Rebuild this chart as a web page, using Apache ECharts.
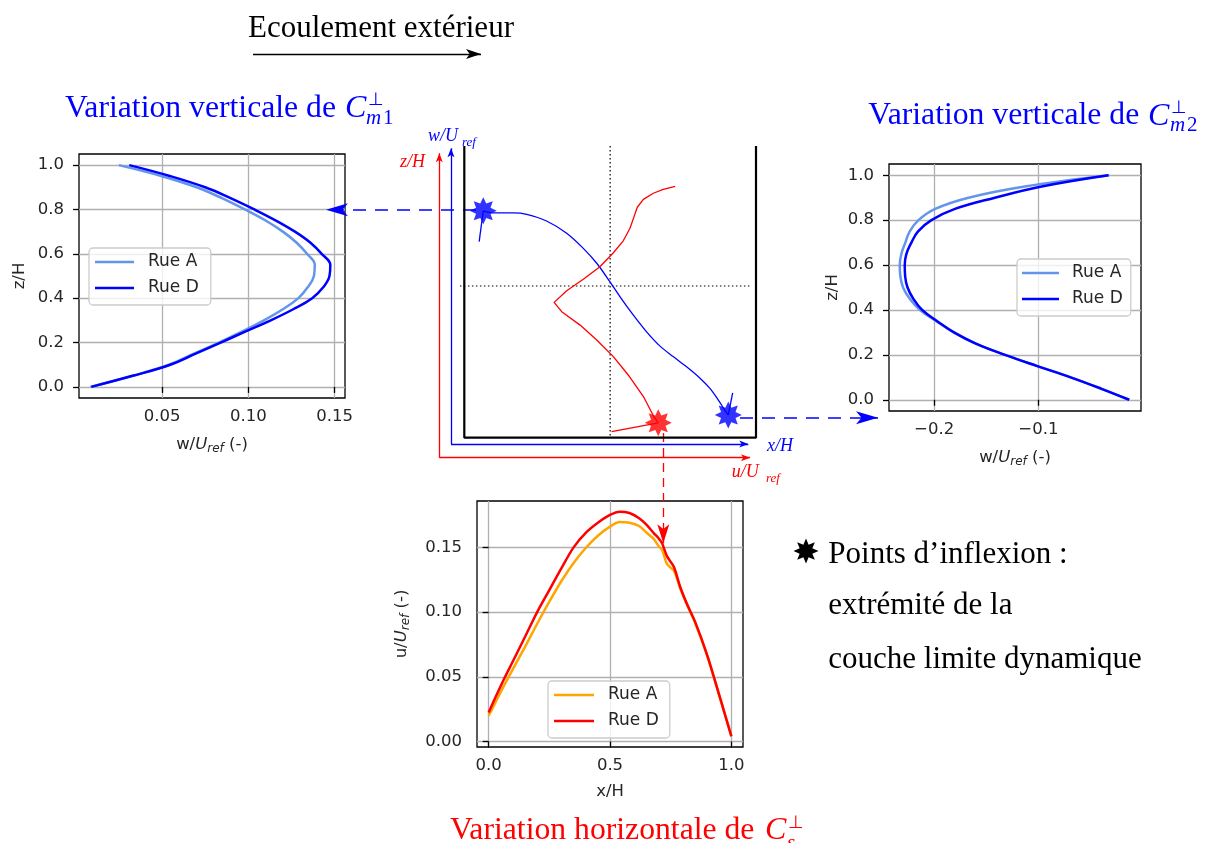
<!DOCTYPE html>
<html><head><meta charset="utf-8">
<script src="https://cdn.jsdelivr.net/npm/echarts@6/dist/echarts.min.js"></script>
<style>html,body{margin:0;padding:0;background:#fff}#c{width:1205px;height:843px}</style>
</head><body><div id="c"></div>
<script>
// ================= DATA =================
const zLevels = [0,0.05,0.1,0.15,0.2,0.25,0.3,0.35,0.4,0.45,0.5,0.55,0.6,0.65,0.7,0.75,0.8,0.85,0.9,0.95,1.0];
const wM1_rueA = [0.0085,0.033,0.054,0.0685,0.083,0.0965,0.109,0.120,0.129,0.1345,0.138,0.1385,0.134,0.128,0.120,0.110,0.098,0.085,0.070,0.050,0.025];
const wM1_rueD = [0.009,0.033,0.0548,0.0695,0.084,0.0985,0.113,0.126,0.137,0.1435,0.147,0.1475,0.1425,0.136,0.127,0.116,0.1035,0.090,0.075,0.055,0.031];
const wM2_rueA = [-0.0128,-0.040,-0.069,-0.101,-0.132,-0.160,-0.181,-0.198,-0.2135,-0.2234,-0.2298,-0.2324,-0.233,-0.2314,-0.2276,-0.2234,-0.215,-0.199,-0.167,-0.113,-0.032];
const wM2_rueD = [-0.0128,-0.040,-0.069,-0.101,-0.132,-0.160,-0.181,-0.197,-0.2115,-0.22,-0.2255,-0.2278,-0.2282,-0.2266,-0.2218,-0.2154,-0.2026,-0.180,-0.1417,-0.0968,-0.0327];
const xPos = [0,0.03,0.06,0.1,0.15,0.2,0.25,0.3,0.35,0.4,0.45,0.5,0.54,0.58,0.62,0.65,0.68,0.70,0.715,0.735,0.763,0.79,0.82,0.85,0.9,0.95,1.0];
const uS_rueA = [0.020,0.031,0.042,0.056,0.0732,0.091,0.108,0.124,0.138,0.1495,0.159,0.166,0.1695,0.169,0.1665,0.1615,0.1565,0.151,0.148,0.137,0.132,0.118,0.1045,0.092,0.0665,0.0355,0.0045];
const uS_rueD = [0.0225,0.035,0.047,0.062,0.081,0.100,0.117,0.134,0.150,0.1612,0.169,0.175,0.1775,0.1765,0.1725,0.1675,0.161,0.157,0.153,0.143,0.135,0.119,0.105,0.0928,0.067,0.036,0.004];
const m1_xTicks = [0.05,0.10,0.15];
const m2_xTicks = [-0.2,-0.1];
const z_ticks = [0,0.2,0.4,0.6,0.8,1.0];
const s_xTicks = [0,0.5,1.0];
const s_yTicks = [0,0.05,0.10,0.15];
const streetNames = ['Rue A','Rue D'];
const canyonBox = [[0,1],[0,0],[1,0],[1,1]];
const centerV = [[0.5,1],[0.5,0]];
const centerH = [[-0.015,0.52],[0.985,0.52]];
const schemW = [[0.065,0.778],[0.099,0.771],[0.168,0.771],[0.214,0.766],[0.282,0.743],[0.351,0.701],[0.408,0.649],[0.454,0.598],[0.499,0.535],[0.534,0.483],[0.579,0.421],[0.625,0.363],[0.671,0.314],[0.716,0.278],[0.762,0.243],[0.808,0.204],[0.842,0.169],[0.871,0.129],[0.894,0.093],[0.905,0.078]];
const schemWTail1 = [[0.051,0.672],[0.065,0.778]];
const schemWTail2 = [[0.905,0.078],[0.920,0.154]];
const schemU = [[0.723,0.862],[0.682,0.851],[0.648,0.838],[0.614,0.817],[0.593,0.790],[0.582,0.758],[0.568,0.718],[0.545,0.675],[0.511,0.634],[0.465,0.586],[0.408,0.543],[0.351,0.504],[0.308,0.464],[0.334,0.432],[0.397,0.386],[0.454,0.335],[0.511,0.278],[0.562,0.215],[0.614,0.141],[0.650,0.072],[0.665,0.051]];
const schemUTail = [[0.665,0.051],[0.505,0.021]];
const inflexW = [[0.065,0.778],[0.905,0.078]];
const inflexU = [[0.665,0.051]];

// ================= LAYOUT / STYLE =================
const PXH = 291.7, OX = 464.3, OY = 437.7;
function toH(px, py){ return [(px-OX)/PXH, (OY-py)/PXH]; }
const BLUE='#0000ff', RED='#ff0000', CBLUE='#6495ED', ORANGE='#FFA500';
const TXT='#262626';
const tickFont = {fontFamily:'DejaVu Sans', fontSize:16.5, color:TXT};
const nameRich = {
  n:{fontFamily:'DejaVu Sans', fontSize:16.5, color:TXT, lineHeight:20},
  i:{fontFamily:'DejaVu Sans', fontStyle:'italic', fontSize:16.5, color:TXT, lineHeight:20},
  s:{fontFamily:'DejaVu Sans', fontStyle:'italic', fontSize:12, color:TXT, lineHeight:10, verticalAlign:'bottom'}
};
function starPts(n, r0, R, cx, cy){
  const p=[];
  for(let k=0;k<2*n;k++){
    const a=-Math.PI/2+k*Math.PI/n, r=(k%2)?r0*R:R;
    p.push([cx+r*Math.cos(a), cy+r*Math.sin(a)]);
  }
  return p;
}
const STAR = 'path://' + starPts(8,0.58,50,0,0).map((q,i)=>(i?'L':'M')+q[0].toFixed(2)+','+q[1].toFixed(2)).join('') + 'Z';

function vAxis(gi, min, max, ticks, fmt, name, gap, margin){
  return {
    type:'value', gridIndex:gi, min, max,
    axisLine:{show:false},
    axisTick:{show:true, customValues:ticks, length:6, lineStyle:{color:'#000', width:1.3}},
    axisLabel:Object.assign({customValues:ticks, formatter:fmt, margin}, tickFont),
    splitLine:{show:true, lineStyle:{color:'#b0b0b0', width:1.3}},
    name, nameLocation:'middle', nameGap:gap,
    nameTextStyle:{rich:nameRich}
  };
}
const f1 = v => (Math.abs(v)<1e-9?0:v).toFixed(1).replace('-','\u2212');
const f2 = v => v.toFixed(2);

function legendAt(left, top, names, iw, pad, tpad){
  return {
    left, top, orient:'vertical', data:names, formatter:n=>n.trim(),
    icon:'rect', itemWidth:iw, itemHeight:2.5, itemGap:6, padding:pad,
    backgroundColor:'rgba(255,255,255,0.8)', borderColor:'#cccccc', borderWidth:1.3, borderRadius:4,
    textStyle:{fontFamily:'DejaVu Sans', fontSize:17, color:TXT, lineHeight:20, padding:[0,0,0,tpad]},
    selectedMode:false
  };
}
function lineS(name, xi, data, color, smooth){
  return {type:'line', name, xAxisIndex:xi, yAxisIndex:xi, data, symbol:'none', smooth:smooth||false,
    lineStyle:{color, width:2.5}, itemStyle:{color}, silent:true, animation:false};
}
function arrow(fromPx, tipPx, headW, headL, color, dash, width){
  return [
    {coord:toH(fromPx[0],fromPx[1]), symbol:'none', lineStyle:{color, width:width||1.3, type:dash||'solid'}},
    {coord:toH(tipPx[0],tipPx[1]), symbol:'arrow', symbolSize:[headW*0.75, headL]}
  ];
}
function ml(items){ return {silent:true, animation:false, symbol:['none','arrow'], label:{show:false}, emphasis:{disabled:true}, data:items}; }
function schem(data, color, width, extra){
  return Object.assign({type:'line', xAxisIndex:3, yAxisIndex:3, data, symbol:'none', lineStyle:{color, width}, itemStyle:{color}, silent:true, animation:false, z:5}, extra||{});
}
function T(x, base, text, size, color, italic, family){
  family = family||'Liberation Serif';
  const k = family.indexOf('DejaVu')>=0 ? 0.25 : 0.225;
  return {type:'text', x, y:base-k*size, z:100, silent:true,
    style:{text, fill:color||'#000', font:(italic?'italic ':'')+size+'px "'+family+'"', align:'left', verticalAlign:'middle'}};
}
const hMin = toH(0,843), hMax = toH(1205,0);

const option = {
  backgroundColor:'#fff', animation:false,
  grid:[
    {left:79, top:154, width:266, height:244, show:true, borderColor:'#000', borderWidth:1.3, backgroundColor:'transparent'},
    {left:889, top:164, width:252, height:247, show:true, borderColor:'#000', borderWidth:1.3, backgroundColor:'transparent'},
    {left:477, top:501, width:266, height:246, show:true, borderColor:'#000', borderWidth:1.3, backgroundColor:'transparent'},
    {left:0, top:0, width:1205, height:843, show:false}
  ],
  xAxis:[
    vAxis(0, 0.0019, 0.156, m1_xTicks, f2, '{n|w/}{i|U}{s|ref}{n| (-)}', 37, 10),
    vAxis(1, -0.2433, -0.0015, m2_xTicks, f1, '{n|w/}{i|U}{s|ref}{n| (-)}', 37, 10),
    vAxis(2, -0.048, 1.048, s_xTicks, f1, '{n|x/H}', 35, 10),
    {type:'value', gridIndex:3, min:hMin[0], max:hMax[0], show:false}
  ],
  yAxis:[
    vAxis(0, -0.05, 1.05, z_ticks, f1, '{n|z/H}', 49, 15),
    vAxis(1, -0.05, 1.05, z_ticks, f1, '{n|z/H}', 46, 15),
    vAxis(2, -0.0042, 0.1858, s_yTicks, f2, '{n|u/}{i|U}{s|ref}{n| (-)}', 65, 15),
    {type:'value', gridIndex:3, min:hMin[1], max:hMax[1], show:false}
  ],
  legend:[
    legendAt(89, 248, streetNames, 39, [4,12,7,6], 9),
    legendAt(1017, 259, streetNames.map(n=>n+' '), 37, [4,8,7,5], 8),
    legendAt(548, 681, streetNames.map(n=>n+'  '), 40, [4,11,7,6], 9)
  ],
  series:[
    lineS(streetNames[0], 0, zLevels.map((z,i)=>[wM1_rueA[i], z]), CBLUE, 0.4),
    lineS(streetNames[1], 0, zLevels.map((z,i)=>[wM1_rueD[i], z]), BLUE, 0.4),
    lineS(streetNames[0]+' ', 1, zLevels.map((z,i)=>[wM2_rueA[i], z]), CBLUE, 0.4),
    lineS(streetNames[1]+' ', 1, zLevels.map((z,i)=>[wM2_rueD[i], z]), BLUE, 0.4),
    lineS(streetNames[0]+'  ', 2, xPos.map((x,i)=>[x, uS_rueA[i]]), ORANGE, 0.3),
    lineS(streetNames[1]+'  ', 2, xPos.map((x,i)=>[x, uS_rueD[i]]), RED, 0.3),
    schem(canyonBox, '#000', 2.2, {markLine: ml([ arrow([253,54],[481,54],10,15,'#000','solid',1.4) ])}),
    schem(centerV, '#000', 1.2, {lineStyle:{color:'#000', width:1.2, type:[1.5,2.5]}}),
    schem(centerH, '#000', 1.2, {lineStyle:{color:'#000', width:1.2, type:[1.5,2.5]}}),
    schem(schemW, BLUE, 1.3, {smooth:0.3, markLine: ml([
      arrow([451,444],[451,148.3],7,9,BLUE),
      arrow([451,444],[748.3,444],7,9,BLUE),
      arrow([476,209.7],[326,209.7],13,22,BLUE,[13,9],1.5),
      arrow([740,417.7],[878,417.7],13,22,BLUE,[13,9],1.5)
    ])}),
    schem(schemWTail1, BLUE, 1.3),
    schem(schemWTail2, BLUE, 1.3),
    schem(schemU, RED, 1.3, {markLine: ml([
      arrow([439.3,457.7],[439.3,153.3],7,9,RED),
      arrow([439.3,457.7],[750,457.7],7,9,RED),
      arrow([663.3,433],[663.3,543.3],12,19,RED,[9,6],1.3)
    ])}),
    schem(schemUTail, RED, 1.3),
    {type:'scatter', xAxisIndex:3, yAxisIndex:3, data:inflexW, symbol:STAR, symbolSize:27, itemStyle:{color:BLUE}, z:6, silent:true, animation:false},
    {type:'scatter', xAxisIndex:3, yAxisIndex:3, data:inflexU, symbol:STAR, symbolSize:27, itemStyle:{color:RED}, z:6, silent:true, animation:false}
  ],
  graphic:[
    T(248, 36, 'Ecoulement extérieur', 31, '#000'),
    T(65, 115.7, 'Variation verticale de', 31.7, BLUE),
    T(345, 115.7, 'C', 32, BLUE, true),
    T(368, 105, '\u22A5', 18, BLUE, false, 'DejaVu Sans'),
    T(366, 123, 'm', 21, BLUE, true),
    T(383, 123, '1', 21, BLUE),
    T(868.3, 123.3, 'Variation verticale de', 31.7, BLUE),
    T(1148, 123.3, 'C', 32, BLUE, true),
    T(1171, 113, '\u22A5', 18, BLUE, false, 'DejaVu Sans'),
    T(1170, 130, 'm', 21, BLUE, true),
    T(1187, 130, '2', 21, BLUE),
    T(450, 838, 'Variation horizontale de', 31.7, RED),
    T(765, 838, 'C', 32, RED, true),
    T(788, 828, '\u22A5', 18, RED, false, 'DejaVu Sans'),
    T(787, 848, 's', 21, RED, true),
    {type:'polygon', z:100, silent:true, shape:{points:starPts(8,0.55,12.5,806,551)}, style:{fill:'#000'}},
    T(828.3, 561.7, 'Points d\u2019inflexion :', 31, '#000'),
    T(828.3, 613.3, 'extrémité de la', 31, '#000'),
    T(828.3, 666.7, 'couche limite dynamique', 31, '#000'),
    T(428, 140.5, 'w/U', 18, BLUE, true),
    T(462, 146, 'ref', 13, BLUE, true),
    T(400, 166, 'z/H', 18, RED, true),
    T(767, 450.7, 'x/H', 18, BLUE, true),
    T(731.7, 476.5, 'u/U', 18, RED, true),
    T(766, 482, 'ref', 13, RED, true)
  ]
};
const chart = echarts.init(document.getElementById('c'), null, {renderer:'canvas'});
chart.setOption(option);
</script>
</body></html>
